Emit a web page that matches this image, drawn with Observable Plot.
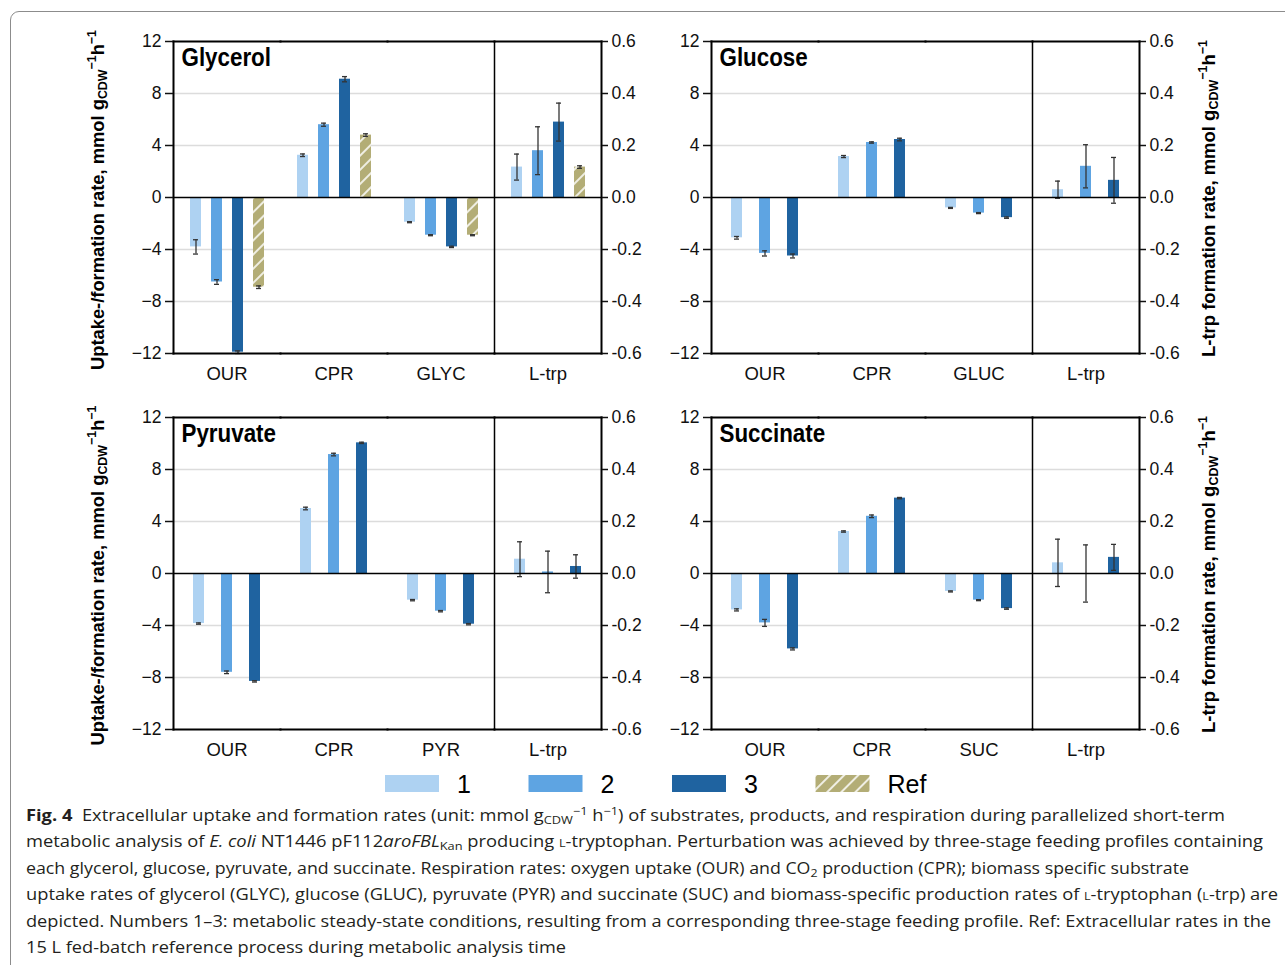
<!DOCTYPE html>
<html>
<head>
<meta charset="utf-8">
<script src="https://cdn.jsdelivr.net/npm/d3@7"></script>
<script src="https://cdn.jsdelivr.net/npm/@observablehq/plot@0.6"></script>
<style>
  body { margin: 0; background: #fff; }
  #page { position: relative; width: 1285px; height: 965px; overflow: hidden; background: #fff;
          font-family: "Liberation Sans", Arial, sans-serif; }
  #border { position: absolute; left: 10px; top: 11px; width: 1320px; height: 1000px;
            border: 1px solid #8c8c8c; border-radius: 9px; }
  .panel { position: absolute; }
  .panel svg { overflow: visible; }
  #caption { position: absolute; left: 26px; top: 0; font-family: "Open Sans", "Noto Sans", sans-serif;
             font-size: 16px; color: #231f20; }
  .cl { position: absolute; left: 0; white-space: nowrap; line-height: 20px; transform-origin: 0 0; display: inline-block; }
  .cl sub, .cl sup { font-size: 70%; line-height: 0; }
  .cl sup { vertical-align: 0.55em; }
  .cl sub { vertical-align: -0.3em; }
  .sc { font-variant: small-caps; }
</style>
</head>
<body>
<div id="page">
  <div id="border"></div>
  <div class="panel" id="p0" style="left:111px;top:20px"></div>
  <div class="panel" id="p1" style="left:649px;top:20px"></div>
  <div class="panel" id="p2" style="left:111px;top:396px"></div>
  <div class="panel" id="p3" style="left:649px;top:396px"></div>
  <div id="caption"></div>
</div>
<script>
// ---------- data ----------
const stages = ["1", "2", "3", "Ref"];
const stageColors = ["#aed2f2", "#5ea4e2", "#1f63a0", "url(#hatchRef)"];
const trpScale = 20; // right axis (L-trp) = left axis / 20
const leftTicks = [-12, -8, -4, 0, 4, 8, 12];
const gridTicks = [-8, -4, 4, 8];
const rightTickLabels = ["-0.6", "-0.4", "-0.2", "0.0", "0.2", "0.4", "0.6"];

const panelTitles = ["Glycerol", "Glucose", "Pyruvate", "Succinate"];
const glycerolCats = ["OUR", "CPR", "GLYC", "L-trp"];
const glucoseCats = ["OUR", "CPR", "GLUC", "L-trp"];
const pyruvateCats = ["OUR", "CPR", "PYR", "L-trp"];
const succinateCats = ["OUR", "CPR", "SUC", "L-trp"];

// rows: categories; columns: stages (1, 2, 3[, Ref]); L-trp in right-axis units
const glycerolValues = [[-3.8, -6.5, -11.9, -6.9], [3.25, 5.6, 9.1, 4.8], [-1.9, -2.9, -3.8, -2.9], [0.117, 0.18, 0.29, 0.117]];
const glycerolErrors = [[0.55, 0.18, 0.1, 0.1], [0.1, 0.12, 0.2, 0.1], [0.04, 0.04, 0.05, 0.04], [0.05, 0.092, 0.073, 0.005]];
const glucoseValues = [[-3.1, -4.3, -4.5], [3.15, 4.23, 4.46], [-0.8, -1.2, -1.55], [0.03, 0.12, 0.066]];
const glucoseErrors = [[0.1, 0.2, 0.15], [0.08, 0.05, 0.1], [0.04, 0.04, 0.05], [0.033, 0.083, 0.088]];
const pyruvateValues = [[-3.85, -7.6, -8.3], [5.0, 9.15, 10.05], [-2.05, -2.9, -3.9], [0.055, 0.006, 0.027]];
const pyruvateErrors = [[0.05, 0.1, 0.05], [0.1, 0.1, 0.05], [0.05, 0.05, 0.05], [0.067, 0.08, 0.045]];
const succinateValues = [[-2.8, -3.8, -5.8], [3.23, 4.4, 5.8], [-1.38, -2.05, -2.7], [0.041, 0.0, 0.062]];
const succinateErrors = [[0.08, 0.27, 0.08], [0.05, 0.1, 0.05], [0.04, 0.04, 0.05], [0.091, 0.11, 0.05]];

const legendLabels = ["1", "2", "3", "Ref"];

// ---------- helpers ----------
const narrow = "'Liberation Sans Narrow', 'Arial Narrow', 'Liberation Sans', Arial, sans-serif";
const regular = "'Liberation Sans', Arial, sans-serif";
const titleCondense = 0.86;

function buildRows(cats, values, errors) {
  const rows = [];
  cats.forEach((cat, ci) => values[ci].forEach((v, si) => {
    const k = cat === "L-trp" ? trpScale : 1;
    const e = errors[ci][si];
    rows.push({cat, stage: stages[si], value: v * k, lo: (v - e) * k, hi: (v + e) * k});
  }));
  return rows;
}

function makePanel(sel, title, cats, values, errors) {
  const rows = buildRows(cats, values, errors);
  const n = values[0].length;
  const four = n === 4;
  const errStyle = {stroke: "#333", strokeWidth: 1.3};
  const svg = Plot.plot({
    width: 541, height: 373,
    marginLeft: 60, marginRight: 50, marginTop: 21, marginBottom: 40,
    style: {fontFamily: regular, fontSize: "17.5px", color: "#111", background: "transparent", overflow: "visible"},
    fx: {domain: cats, padding: 0, label: null},
    x: {domain: stages.slice(0, n), paddingInner: four ? 0.49 : 0.6, paddingOuter: four ? 0.75 : 0.67, axis: null},
    y: {domain: [-12, 12], axis: null},
    color: {domain: stages, range: stageColors},
    marks: [
      Plot.ruleY(gridTicks, {stroke: "#dcdcdc", strokeWidth: 1.5}),
      Plot.barY(rows, {fx: "cat", x: "stage", y: "value", fill: "stage"}),
      Plot.ruleX(rows, {fx: "cat", x: "stage", y1: "lo", y2: "hi", ...errStyle}),
      Plot.tickY(rows, {fx: "cat", x: "stage", y: "lo", insetLeft: 3, insetRight: 3, ...errStyle}),
      Plot.tickY(rows, {fx: "cat", x: "stage", y: "hi", insetLeft: 3, insetRight: 3, ...errStyle}),
      Plot.ruleY([0], {stroke: "#000", strokeWidth: 1.6}),
      Plot.frame({anchor: "top", stroke: "#000", strokeWidth: 2}),
      Plot.frame({anchor: "bottom", stroke: "#000", strokeWidth: 2}),
      Plot.frame({anchor: "left", fx: [cats[0]], stroke: "#000", strokeWidth: 2}),
      Plot.frame({anchor: "right", fx: [cats[3]], stroke: "#000", strokeWidth: 2}),
      Plot.frame({anchor: "left", fx: [cats[3]], stroke: "#000", strokeWidth: 1.5}),
      Plot.axisY({anchor: "left", ticks: leftTicks, tickSize: 8, tickPadding: 4, label: null,
                  fontSize: 17.5, strokeWidth: 1.5}),
      Plot.axisY({anchor: "right", ticks: leftTicks, tickSize: 6, tickPadding: 4, label: null,
                  fontSize: 17.5, strokeWidth: 1.5,
                  tickFormat: d => rightTickLabels[leftTicks.indexOf(d)]}),
      Plot.axisFx({anchor: "bottom", tickSize: 0, tickPadding: 13, label: null, fontSize: 18.5}),
      Plot.text([{fx: cats[0], t: title}], {fx: "fx", text: "t", frameAnchor: "top-left", textAnchor: "start",
                  lineAnchor: "top", dx: 8, dy: 6, fontSize: 26, fontWeight: "bold", fontFamily: narrow, fill: "#000"})
    ]
  });
  document.querySelector(sel).appendChild(svg);
  // condense the bold panel title (narrow face not installed)
  d3.select(svg).selectAll("text").filter(function () { return this.textContent === title; })
    .each(function () {
      const w = this.getComputedTextLength();
      d3.select(this).attr("textLength", w * titleCondense).attr("lengthAdjust", "spacingAndGlyphs");
    });
  return svg;
}

function addHatch(sel, id) {
  const defs = sel.insert("defs", ":first-child");
  const p = defs.append("pattern").attr("id", id).attr("patternUnits", "userSpaceOnUse")
    .attr("width", 10).attr("height", 10).attr("patternTransform", "rotate(45)");
  p.append("rect").attr("width", 10).attr("height", 10).attr("fill", "#b3ad76");
  p.append("line").attr("x1", 5).attr("y1", 0).attr("x2", 5).attr("y2", 10)
    .attr("stroke", "#fff").attr("stroke-width", 1.6);
}

// ---------- panels ----------
const s0 = makePanel("#p0", panelTitles[0], glycerolCats, glycerolValues, glycerolErrors);
addHatch(d3.select(s0), "hatchRef");
makePanel("#p1", panelTitles[1], glucoseCats, glucoseValues, glucoseErrors);
makePanel("#p2", panelTitles[2], pyruvateCats, pyruvateValues, pyruvateErrors);
makePanel("#p3", panelTitles[3], succinateCats, succinateValues, succinateErrors);

// ---------- overlay: axis titles + legend ----------
const overlay = d3.select("#page").append("svg")
  .attr("width", 1285).attr("height", 965)
  .style("position", "absolute").style("left", 0).style("top", 0).style("pointer-events", "none");

function axisTitle(x, cy, main, length) {
  const t = overlay.append("text")
    .attr("transform", `translate(${x},${cy}) rotate(-90)`)
    .attr("text-anchor", "middle")
    .attr("font-family", narrow).attr("font-weight", "bold").attr("font-size", 18.5).attr("fill", "#000")
    .attr("textLength", length).attr("lengthAdjust", "spacingAndGlyphs");
  t.append("tspan").text(main + " g");
  t.append("tspan").attr("font-size", 12.5).attr("dy", 3).text("CDW");
  t.append("tspan").attr("font-size", 12.5).attr("dy", -11).text("−1");
  t.append("tspan").attr("dy", 8).text("h");
  t.append("tspan").attr("font-size", 12.5).attr("dy", -8).text("−1");
}
const leftTitle = "Uptake-/formation rate, mmol";
const rightTitle = "L-trp formation rate, mmol";
axisTitle(103.5, 200, leftTitle, 340);
axisTitle(103.5, 575.5, leftTitle, 340);
axisTitle(1215, 198.5, rightTitle, 317);
axisTitle(1215, 574.5, rightTitle, 317);

// legend
addHatch(overlay, "hatchLegend");
const lg = overlay.append("g");
const legendX0 = 385, legendStep = 143.5;
legendLabels.forEach((lab, i) => {
  const x = legendX0 + i * legendStep;
  lg.append("rect").attr("x", x).attr("y", 775).attr("width", 54).attr("height", 17)
    .attr("fill", i === 3 ? "url(#hatchLegend)" : stageColors[i]);
  lg.append("text").attr("x", x + 72).attr("y", 793).attr("font-family", regular)
    .attr("font-size", 25).attr("fill", "#000").text(lab);
});

// ---------- caption ----------
const captionLines = [
  '<b>Fig. 4</b>&nbsp; Extracellular uptake and formation rates (unit: mmol g<sub>CDW</sub><sup>−1</sup> h<sup>−1</sup>) of substrates, products, and respiration during parallelized short-term',
  'metabolic analysis of <i>E. coli</i> NT1446 pF112<i>aroFBL</i><sub>Kan</sub> producing <span class="sc">l</span>-tryptophan. Perturbation was achieved by three-stage feeding profiles containing',
  'each glycerol, glucose, pyruvate, and succinate. Respiration rates: oxygen uptake (OUR) and CO<sub>2</sub> production (CPR); biomass specific substrate',
  'uptake rates of glycerol (GLYC), glucose (GLUC), pyruvate (PYR) and succinate (SUC) and biomass-specific production rates of <span class="sc">l</span>-tryptophan (<span class="sc">l</span>-trp) are',
  'depicted. Numbers 1–3: metabolic steady-state conditions, resulting from a corresponding three-stage feeding profile. Ref: Extracellular rates in the',
  '15 L fed-batch reference process during metabolic analysis time'
];
const captionWidths = [1199, 1237, 1163, 1252, 1245, null];
const cap = document.getElementById("caption");
const spans = captionLines.map((html, i) => {
  const d = document.createElement("div");
  d.className = "cl";
  d.style.top = (805 + i * 26.4) + "px";
  d.innerHTML = html;
  cap.appendChild(d);
  return d;
});
const ratios = [];
spans.forEach((d, i) => {
  if (captionWidths[i]) ratios.push(captionWidths[i] / d.getBoundingClientRect().width);
});
const avgRatio = ratios.reduce((a, b) => a + b, 0) / ratios.length;
spans.forEach((d, i) => {
  const r = captionWidths[i] ? captionWidths[i] / d.getBoundingClientRect().width : avgRatio;
  d.style.transform = `scaleX(${r})`;
});
</script>
</body>
</html>
